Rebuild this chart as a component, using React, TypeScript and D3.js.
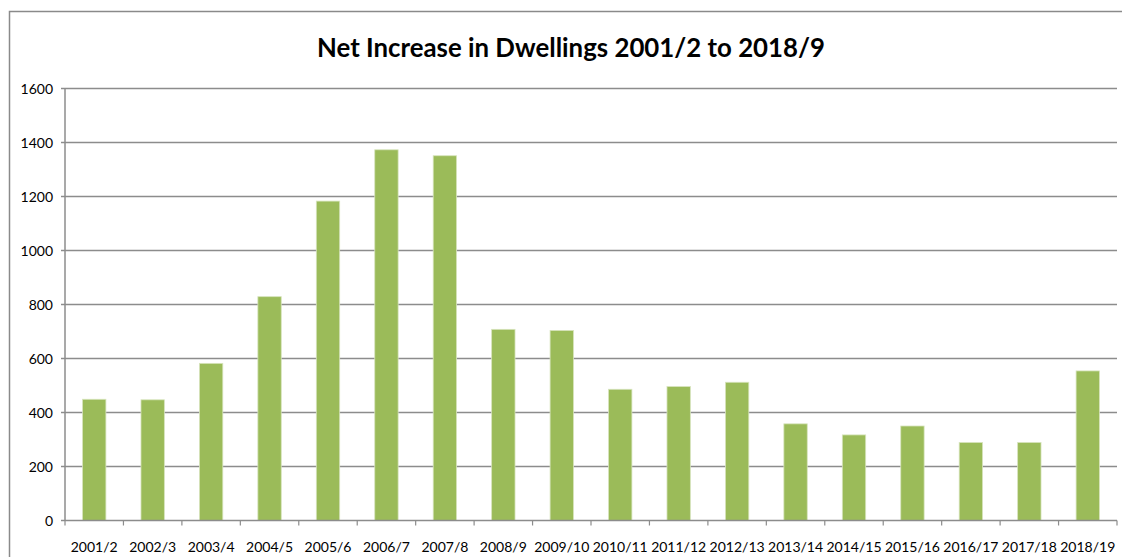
import React from "react";
import * as d3 from "d3";

const categories = ["2001/2","2002/3","2003/4","2004/5","2005/6","2006/7","2007/8","2008/9","2009/10","2010/11","2011/12","2012/13","2013/14","2014/15","2015/16","2016/17","2017/18","2018/19"];
const values = [449, 447, 582, 829, 1183, 1373, 1351, 708, 704, 486, 496, 512, 358, 317, 350, 289, 289, 554];
const yTicks = [0, 200, 400, 600, 800, 1000, 1200, 1400, 1600];
const title = "Net Increase in Dwellings 2001/2 to 2018/9";

export default function App() {
  const W = 1122, H = 557;
  const left = 65, right = 1117, top = 88.5, bottom = 520.5;
  const x = d3.scaleBand<string>().domain(categories).range([left, right]).paddingInner(0.6).paddingOuter(0.3);
  const xb = d3.scaleBand<string>().domain(categories).range([left, right]);
  const y = d3.scaleLinear().domain([0, 1600]).range([bottom, top]);
  const font = "Lato, 'Open Sans', sans-serif";
  return (
    <svg width={W} height={H} style={{ position: "absolute", left: 0, top: 0, background: "#fff" }}>
      <rect x={9.5} y={11.5} width={1130} height={560} fill="#fff" stroke="#8a8a8a" strokeWidth={1.5} />
      <text x={571} y={57} textAnchor="middle" fontFamily={font} fontWeight={700} fontSize={26} fill="#000" textLength={508} lengthAdjust="spacingAndGlyphs">{title}</text>
      {yTicks.map(t => (
        <g key={t}>
          {t > 0 && <line x1={left} x2={right} y1={y(t)} y2={y(t)} stroke="#8c8c8c" strokeWidth={1.5} />}
          <line x1={left - 4} x2={left} y1={y(t)} y2={y(t)} stroke="#8c8c8c" strokeWidth={1.5} />
          <text x={53} y={y(t) + 5} textAnchor="end" fontFamily={font} fontSize={14} fill="#000">{t}</text>
        </g>
      ))}
      {categories.map((c, i) => (
        <rect key={c} x={x(c)} y={y(values[i])} width={x.bandwidth()} height={bottom - y(values[i])} fill="#9BBB59" stroke="#d7e4bd" strokeWidth={0.8} />
      ))}
      <line x1={left} x2={left} y1={top} y2={bottom} stroke="#8c8c8c" strokeWidth={1.5} />
      <line x1={left} x2={right} y1={bottom} y2={bottom} stroke="#8c8c8c" strokeWidth={1.5} />
      {categories.map(c => (
        <line key={"t" + c} x1={(xb(c) as number)} x2={(xb(c) as number)} y1={bottom} y2={bottom + 5} stroke="#8c8c8c" strokeWidth={1.2} />
      ))}
      <line x1={right} x2={right} y1={bottom} y2={bottom + 5} stroke="#8c8c8c" strokeWidth={1.2} />
      {categories.map(c => (
        <text key={"l" + c} x={(xb(c) as number) + xb.bandwidth() / 2} y={552} textAnchor="middle" fontFamily={font} fontSize={14} fill="#000">{c}</text>
      ))}
    </svg>
  );
}
